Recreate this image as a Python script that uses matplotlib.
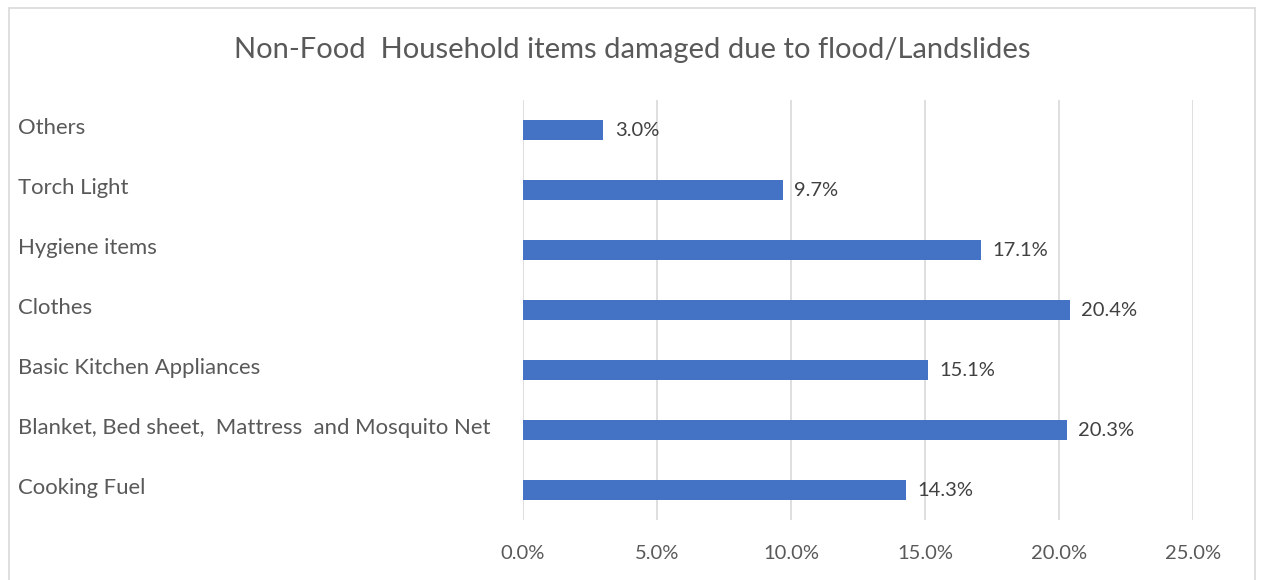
import matplotlib.pyplot as plt
from matplotlib.patches import Rectangle
from matplotlib.transforms import blended_transform_factory
from matplotlib.ticker import FuncFormatter

categories = ["Cooking Fuel", "Blanket, Bed sheet,  Mattress  and Mosquito Net",
              "Basic Kitchen Appliances", "Clothes", "Hygiene items",
              "Torch Light", "Others"]
values = [14.3, 20.3, 15.1, 20.4, 17.1, 9.7, 3.0]
ticks = [0, 5, 10, 15, 20, 25]

plt.rcParams['font.family'] = ['Lato', 'DejaVu Sans']
textColor = '#595959'
barColor = '#4472C4'

fig = plt.figure(figsize=(12.61, 5.8), dpi=100)
ax = fig.add_axes([523/1261, 1 - 520/580, (1193 - 523)/1261, 420/580])

# outer chart frame
fig.patches.append(Rectangle((9/1261, -0.01), 1246/1261, 1 - 8/580 + 0.01,
                             transform=fig.transFigure, fill=False,
                             edgecolor='#d9d9d9', linewidth=1.2))

ypos = range(len(categories))
ax.barh(ypos, values, height=0.33, color=barColor, zorder=2)
for y, v in zip(ypos, values):
    ax.text(v + 0.42, y, "%.1f%%" % v, va='center', ha='left',
            fontsize=14.5, color='#404040')

ax.set_xlim(0, 25)
ax.set_ylim(-0.5, len(categories) - 0.5)
ax.set_xticks(ticks)
ax.xaxis.set_major_formatter(FuncFormatter(lambda x, pos: '%.1f%%' % x))
ax.tick_params(axis='x', length=0, labelsize=14.5, labelcolor=textColor, pad=18)
ax.grid(axis='x', color='#d9d9d9', linewidth=1.2, zorder=0)
ax.set_yticks([])
for sp in ax.spines.values():
    sp.set_visible(False)

# category labels are left aligned against the frame
labelTrans = blended_transform_factory(fig.transFigure, ax.transData)
for y, c in zip(ypos, categories):
    ax.text(18/1261, y + 0.03, c, transform=labelTrans,
            va='center', ha='left', fontsize=15.9, color=textColor)

fig.text(632/1261, 1 - 50/580, "Non-Food  Household items damaged due to flood/Landslides",
         ha='center', va='center', fontsize=21, color=textColor)

fig.savefig('out.png', dpi=100)
